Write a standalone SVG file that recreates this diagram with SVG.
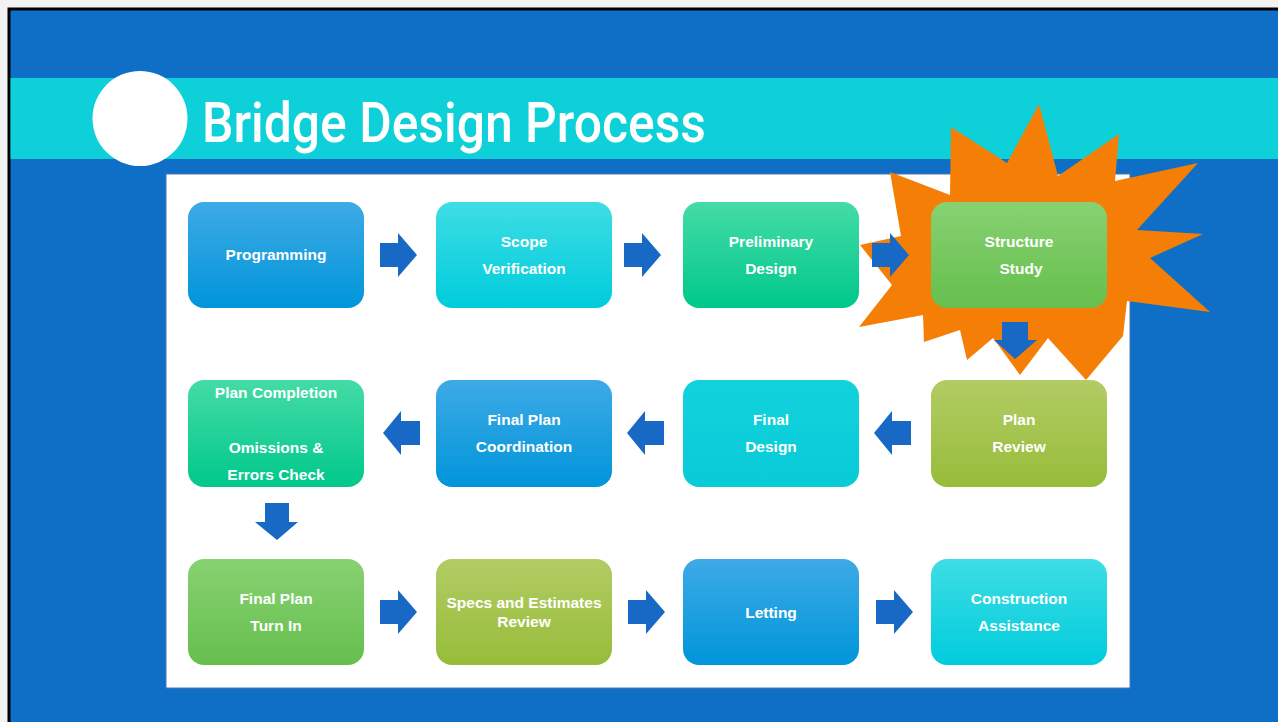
<svg xmlns="http://www.w3.org/2000/svg" width="1278" height="722" viewBox="0 0 1278 722">
<defs>
<style>
.t{font-family:"Liberation Sans",Arial,sans-serif;font-weight:bold;font-size:15.5px;fill:#ffffff;text-anchor:middle}
.ar{fill:#1868C6}
</style>
<linearGradient id="gBlue" x1="0" y1="0" x2="0" y2="1"><stop offset="0" stop-color="#3EAAE6"/><stop offset="1" stop-color="#0095DA"/></linearGradient>
<linearGradient id="gCyan" x1="0" y1="0" x2="0" y2="1"><stop offset="0" stop-color="#3EDDE4"/><stop offset="1" stop-color="#00CCDC"/></linearGradient>
<linearGradient id="gCyan2" x1="0" y1="0" x2="0" y2="1"><stop offset="0" stop-color="#12D2DC"/><stop offset="1" stop-color="#08CBD8"/></linearGradient>
<linearGradient id="gTeal" x1="0" y1="0" x2="0" y2="1"><stop offset="0" stop-color="#45DBA6"/><stop offset="1" stop-color="#00C88B"/></linearGradient>
<linearGradient id="gGreen" x1="0" y1="0" x2="0" y2="1"><stop offset="0" stop-color="#88D172"/><stop offset="1" stop-color="#65BF4D"/></linearGradient>
<linearGradient id="gOlive" x1="0" y1="0" x2="0" y2="1"><stop offset="0" stop-color="#B2CC64"/><stop offset="1" stop-color="#97BC3A"/></linearGradient>
</defs>
<rect x="0" y="0" width="1278" height="722" fill="#f2f2f2"/>
<rect x="9" y="9" width="1290" height="730" fill="#0F6FC6" stroke="#000000" stroke-width="3"/>
<rect x="10.5" y="78" width="1268" height="81" fill="#0DD0D8"/>
<circle cx="140" cy="118.5" r="47.5" fill="#ffffff"/>
<text x="202" y="142" font-family="Roboto,'Liberation Sans',sans-serif" font-weight="500" font-size="56" fill="#ffffff" textLength="504" lengthAdjust="spacingAndGlyphs">Bridge Design Process</text>
<rect x="166" y="174" width="964" height="514" fill="#ffffff" stroke="#4a78b0" stroke-width="1"/>
<polygon fill="#F57F06" points="1039,104 1058,176 1119,134 1115,181 1198,163 1137,230 1203,234 1150,258 1210,312 1127,301 1123,336 1086,380 1048,338 1020,375 993,338 967,360 960,330 924,342 923,315 859,327 892,285 860,245 901,236 890,172 950,195 951,127 1007,163"/>
<g id="connectors">
<polygon class="ar" points="380,243 398,243 398,233 417,255 398,277 398,267 380,267"/>
<polygon class="ar" points="624,243 642,243 642,233 661,255 642,277 642,267 624,267"/>
<polygon class="ar" points="872,243 890,243 890,233 909,255 890,277 890,267 872,267"/>
<polygon class="ar" points="1002,322 1028,322 1028,340 1037,340 1015,359 994,340 1002,340"/>
<polygon class="ar" points="911,421 892,421 892,411 874,433 892,455 892,445 911,445"/>
<polygon class="ar" points="664,421 645,421 645,411 627,433 645,455 645,445 664,445"/>
<polygon class="ar" points="420,421 401,421 401,411 383,433 401,455 401,445 420,445"/>
<polygon class="ar" points="265,503 289,503 289,522 298,522 277,540 255,522 265,522"/>
<polygon class="ar" points="380,600 398,600 398,590 417,612 398,634 398,624 380,624"/>
<polygon class="ar" points="628,600 646,600 646,590 665,612 646,634 646,624 628,624"/>
<polygon class="ar" points="876,600 894,600 894,590 913,612 894,634 894,624 876,624"/>
</g>
<g id="n1"><rect x="188" y="202" width="176" height="106" rx="16" fill="url(#gBlue)"/><text class="t" x="276" y="260">Programming</text></g>
<g id="n2"><rect x="436" y="202" width="176" height="106" rx="16" fill="url(#gCyan)"/><text class="t" x="524" y="247">Scope</text><text class="t" x="524" y="274">Verification</text></g>
<g id="n3"><rect x="683" y="202" width="176" height="106" rx="16" fill="url(#gTeal)"/><text class="t" x="771" y="247">Preliminary</text><text class="t" x="771" y="274">Design</text></g>
<g id="n4"><rect x="931" y="202" width="176" height="106" rx="16" fill="url(#gGreen)"/><text class="t" x="1019" y="247">Structure</text><text class="t" x="1021" y="274">Study</text></g>
<g id="n5"><rect x="931" y="380" width="176" height="107" rx="16" fill="url(#gOlive)"/><text class="t" x="1019" y="425">Plan</text><text class="t" x="1019" y="452">Review</text></g>
<g id="n6"><rect x="683" y="380" width="176" height="107" rx="16" fill="url(#gCyan2)"/><text class="t" x="771" y="425">Final</text><text class="t" x="771" y="452">Design</text></g>
<g id="n7"><rect x="436" y="380" width="176" height="107" rx="16" fill="url(#gBlue)"/><text class="t" x="524" y="425">Final Plan</text><text class="t" x="524" y="452">Coordination</text></g>
<g id="n8"><rect x="188" y="380" width="176" height="107" rx="16" fill="url(#gTeal)"/><text class="t" x="276" y="398">Plan Completion</text><text class="t" x="276" y="453">Omissions &amp;</text><text class="t" x="276" y="480">Errors Check</text></g>
<g id="n9"><rect x="188" y="559" width="176" height="106" rx="16" fill="url(#gGreen)"/><text class="t" x="276" y="604">Final Plan</text><text class="t" x="276" y="631">Turn In</text></g>
<g id="n10"><rect x="436" y="559" width="176" height="106" rx="16" fill="url(#gOlive)"/><text class="t" x="524" y="608">Specs and Estimates</text><text class="t" x="524" y="627">Review</text></g>
<g id="n11"><rect x="683" y="559" width="176" height="106" rx="16" fill="url(#gBlue)"/><text class="t" x="771" y="618">Letting</text></g>
<g id="n12"><rect x="931" y="559" width="176" height="106" rx="16" fill="url(#gCyan)"/><text class="t" x="1019" y="604">Construction</text><text class="t" x="1019" y="631">Assistance</text></g>
</svg>
